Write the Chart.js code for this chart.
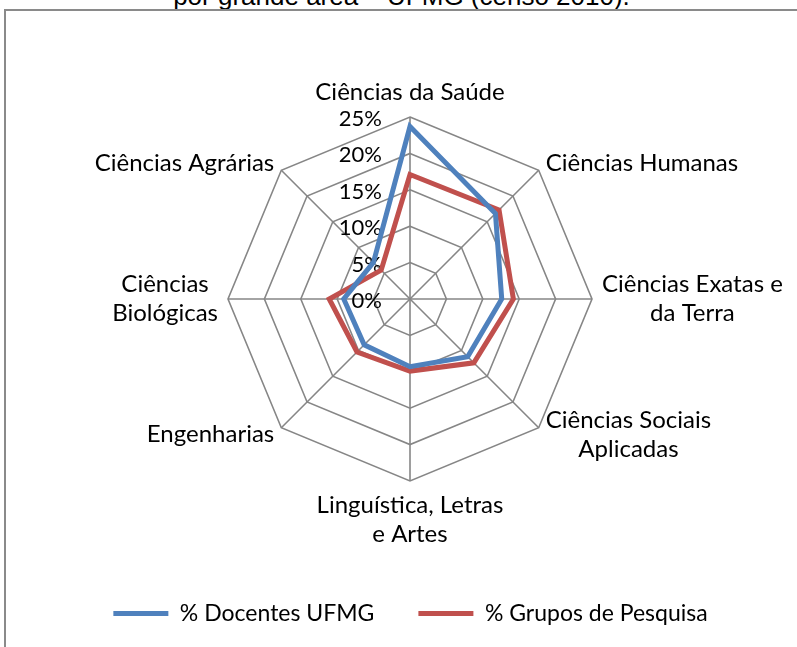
<!DOCTYPE html>
<html>
<head>
<meta charset="utf-8">
<script src="https://cdn.jsdelivr.net/npm/chart.js@4.4.1/dist/chart.umd.min.js"></script>
<style>
  html, body { margin: 0; padding: 0; background: #fff; overflow: hidden; width: 797px; height: 647px; }
  #titulo { position: absolute; left: 3px; top: -19px; width: 797px; text-align: center;
            font: 26px/30px "Liberation Sans", Arial, sans-serif; color: #000; white-space: nowrap; }
  #moldura { position: absolute; left: 4px; top: 9px; width: 900px; height: 900px; border: 2px solid #8a8a8a; }
  #grafico { position: absolute; left: 0; top: 0; }
</style>
</head>
<body>
<div id="titulo">por grande área – UFMG (censo 2010).</div>
<div id="moldura"></div>
<canvas id="grafico" width="797" height="632"></canvas>
<script>
// areas (rotulos em duas linhas onde o Excel quebra)
const areas = [
  ['Ciências da Saúde'],
  ['Ciências Humanas'],
  ['Ciências Exatas e', 'da Terra'],
  ['Ciências Sociais', 'Aplicadas'],
  ['Linguística, Letras', 'e Artes'],
  ['Engenharias'],
  ['Ciências', 'Biológicas'],
  ['Ciências Agrárias']
];
const docentes = [23.7, 16.6, 12.6, 11.2, 9.3, 8.9, 9.1, 7.1];
const grupos   = [17.1, 17.3, 14.2, 12.4, 9.9, 10.3, 11.1, 5.6];
const marcas = [0, 5, 10, 15, 20, 25];

const FONTE_AREA = '24px Lato';
const FONTE_MARCA = '22px Lato';
const ALTURA_LINHA = 29;

// rotulos das areas e das marcas desenhados a partir da escala r
const rotulos = {
  id: 'rotulos',
  beforeDatasetsDraw(chart) {
    const r = chart.scales.r, ctx = chart.ctx;
    ctx.save();
    ctx.fillStyle = '#000';
    ctx.font = FONTE_MARCA;
    ctx.textAlign = 'right';
    ctx.textBaseline = 'middle';
    marcas.forEach(v => {
      const d = r.getDistanceFromCenterForValue(v);
      ctx.fillText(v + '%', r.xCenter - 28, r.yCenter - d + 2);
    });
    ctx.font = FONTE_AREA;
    ctx.textAlign = 'center';
    chart.data.labels.forEach((lab, i) => {
      const linhas = [].concat(lab);
      const p = r.getPointPosition(i, r.drawingArea + 10);
      const cos = Math.cos(p.angle), sin = Math.sin(p.angle);
      const w = Math.max(...linhas.map(l => ctx.measureText(l).width));
      const h = linhas.length * ALTURA_LINHA;
      let cx = p.x, top = p.y - h / 2;
      if (cos > 0.1) cx = p.x + w / 2; else if (cos < -0.1) cx = p.x - w / 2;
      if (sin < -0.9) top = p.y - h; else if (sin > 0.9) top = p.y;
      linhas.forEach((l, k) => ctx.fillText(l, cx, top + ALTURA_LINHA * (k + 0.5)));
    });
    ctx.restore();
  }
};

new Chart(document.getElementById('grafico'), {
  type: 'radar',
  data: {
    labels: areas,
    datasets: [
      { label: '% Docentes UFMG', data: docentes, borderColor: '#4F81BD', backgroundColor: '#4F81BD',
        borderWidth: 5, borderCapStyle: 'round', fill: false, pointRadius: 0, pointHoverRadius: 0 },
      { label: '% Grupos de Pesquisa', data: grupos, borderColor: '#C0504D', backgroundColor: '#C0504D',
        borderWidth: 5, borderCapStyle: 'round', fill: false, pointRadius: 0, pointHoverRadius: 0 }
    ]
  },
  options: {
    responsive: false,
    animation: false,
    layout: { padding: { top: 117, left: 24, right: 0, bottom: 0 } },
    plugins: {
      tooltip: { enabled: false },
      legend: {
        position: 'bottom',
        maxHeight: 150,
        title: { display: true, text: '', font: { size: 10 }, padding: { top: 0, bottom: 64 } },
        labels: {
          usePointStyle: true, pointStyle: 'line', pointStyleWidth: 55,
          padding: 44, color: '#000', font: { family: 'Lato', size: 23 }
        }
      }
    },
    scales: {
      r: {
        min: 0, max: 25,
        ticks: { stepSize: 5, display: false },
        pointLabels: { display: false },
        grid: { color: '#868686', lineWidth: 1.6 },
        angleLines: { color: '#868686', lineWidth: 1.6 }
      }
    }
  },
  plugins: [rotulos]
});
</script>
</body>
</html>
